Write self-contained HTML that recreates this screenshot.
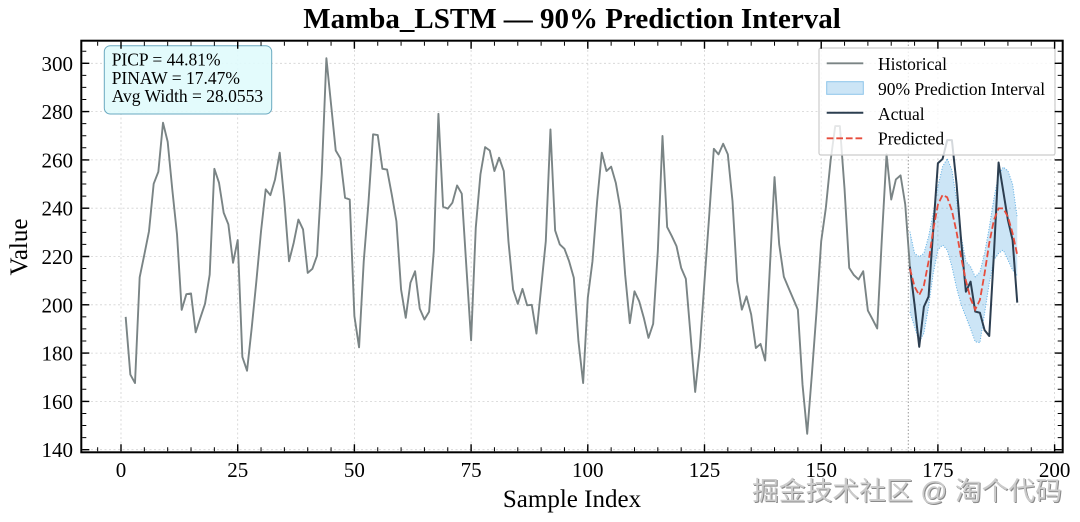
<!DOCTYPE html>
<html>
<head>
<meta charset="utf-8">
<style>
html,body{margin:0;padding:0;background:#ffffff;}
svg{display:block;}
text{font-family:"Liberation Serif",serif;}
</style>
</head>
<body>
<svg width="1080" height="522" viewBox="0 0 1080 522" xmlns="http://www.w3.org/2000/svg">
<rect x="0" y="0" width="1080" height="522" fill="#ffffff"/>

<!-- grid -->
<g stroke="#d2d2d2" stroke-width="0.8" stroke-dasharray="2 2.5" fill="none">
  <line x1="121" y1="41" x2="121" y2="452"/>
  <line x1="237.7" y1="41" x2="237.7" y2="452"/>
  <line x1="354.4" y1="41" x2="354.4" y2="452"/>
  <line x1="471.1" y1="41" x2="471.1" y2="452"/>
  <line x1="587.8" y1="41" x2="587.8" y2="452"/>
  <line x1="704.5" y1="41" x2="704.5" y2="452"/>
  <line x1="821.2" y1="41" x2="821.2" y2="452"/>
  <line x1="937.9" y1="41" x2="937.9" y2="452"/>
  <line x1="1054.6" y1="41" x2="1054.6" y2="452"/>
  <line x1="82" y1="449.7" x2="1062" y2="449.7"/>
  <line x1="82" y1="401.4" x2="1062" y2="401.4"/>
  <line x1="82" y1="353.1" x2="1062" y2="353.1"/>
  <line x1="82" y1="304.8" x2="1062" y2="304.8"/>
  <line x1="82" y1="256.5" x2="1062" y2="256.5"/>
  <line x1="82" y1="208.2" x2="1062" y2="208.2"/>
  <line x1="82" y1="159.9" x2="1062" y2="159.9"/>
  <line x1="82" y1="111.6" x2="1062" y2="111.6"/>
  <line x1="82" y1="63.3" x2="1062" y2="63.3"/>
</g>

<!-- forecast boundary -->
<line x1="908.3" y1="41" x2="908.3" y2="452" stroke="#9a9a9a" stroke-width="1" stroke-dasharray="1.5 2"/>

<!-- data in data coordinates -->
<g transform="matrix(4.668 0 0 -2.415 121 787.8)">
  <polygon fill="#3498db" fill-opacity="0.25" stroke="none"
    points="169,230.3 170,221.3 171,219.9 172,221.3 173,228.2 174,237.9 175,248.9 176,257.2 177,260.6 178,255.8 179,243.4 180,228.2 181,217.9 182,215.8 183,211.6 184,213.5 185,221.3 186,232 187,244 188,254 189,257 190,255.5 191,250 192,236 192,212 191,214.4 190,218.6 189,222.7 188,221.3 187,218.6 186,208.9 185,196.5 184,184.3 183,184.7 182,190 181,195 180,200 179,207 178,215.8 177,222.7 176,224.8 175,222.7 174,213 173,199.2 172,188.2 171,184.7 170,190.9 169,197"/>
  <polyline fill="none" stroke="#5dade2" stroke-width="1" stroke-dasharray="1 1.65" vector-effect="non-scaling-stroke"
    points="169,230.3 170,221.3 171,219.9 172,221.3 173,228.2 174,237.9 175,248.9 176,257.2 177,260.6 178,255.8 179,243.4 180,228.2 181,217.9 182,215.8 183,211.6 184,213.5 185,221.3 186,232 187,244 188,254 189,257 190,255.5 191,250 192,236"/>
  <polyline fill="none" stroke="#5dade2" stroke-width="1" stroke-dasharray="1 1.65" vector-effect="non-scaling-stroke"
    points="169,197 170,190.9 171,184.7 172,188.2 173,199.2 174,213 175,222.7 176,224.8 177,222.7 178,215.8 179,207 180,200 181,195 182,190 183,184.7 184,184.3 185,196.5 186,208.9 187,218.6 188,221.3 189,222.7 190,218.6 191,214.4 192,212"/>
  <polyline fill="none" stroke="#7a8485" stroke-width="1.9" stroke-linejoin="round" vector-effect="non-scaling-stroke"
    points="1,195 2,171.1 3,167.6 4,211.4 5,220.8 6,230.5 7,250.1 8,255.1 9,275.4 10,267.5 11,247.5 12,229.1 13,197.9 14,204.4 15,204.7 16,188.6 17,194.6 18,200.4 19,212.5 20,256.3 21,250.5 22,238.1 23,233.3 24,217.4 25,226.8 26,178.4 27,172.7 28,190.4 29,209.8 30,230.5 31,247.8 32,245.4 33,251.9 34,263 35,242.9 36,218 37,225.7 38,235.3 39,231.2 40,213.2 41,214.9 42,220.4 43,254 44,302.1 45,283 46,263.9 47,260.6 48,244.3 49,243.6 50,195.3 51,182.4 52,218 53,242 54,270.6 55,270.3 56,256.3 57,256 58,245.7 59,234.6 60,206.3 61,194.6 62,209.1 63,213.9 64,198.4 65,193.9 66,197.1 67,222.2 68,279.1 69,240.6 70,239.8 71,242.3 72,249.4 73,246 74,215.3 75,185.3 76,231.9 77,254 78,265.3 79,263.9 80,255.4 81,260.9 82,255.4 83,226.3 84,206.3 85,200.4 86,206.6 87,199.8 88,200 89,188.1 90,207 91,226.3 92,272.6 93,230.8 94,225 95,223.2 96,218 97,211.2 98,184.9 99,167.6 100,202.9 101,218 102,242.9 103,263 104,255.4 105,257.2 106,250.5 107,239.5 108,212.5 109,192.4 110,205.6 111,201.5 112,194.6 113,186.3 114,192.1 115,222.2 116,269.9 117,232.2 118,228.4 119,224.3 120,215.3 121,210.8 122,187.7 123,163.9 124,182.1 125,209.8 126,236.7 127,264.6 128,262.3 129,266.7 130,262.3 131,242.9 132,209.8 133,198 134,203.5 135,196 136,182.1 137,183.8 138,176.9 139,215.3 140,252.9 141,225 142,211.6 143,207 144,202.5 145,198 146,166.9 147,146.6 148,171.1 149,197.3 150,226.3 151,240.2 152,259.5 153,274 154,274 155,248 156,215.3 157,212.3 158,210.5 159,213.9 160,197.6 161,194 162,190.2 163,227.7 164,262.3 165,243.6 166,251.9 167,253.6 168,241.6 169,215.8"/>
  <polyline fill="none" stroke="#2c3e50" stroke-width="2" stroke-linejoin="round" vector-effect="non-scaling-stroke"
    points="169,215.8 170,200 171,182.6 172,199.2 173,203.4 174,231 175,258.6 176,260.4 177,268.2 178,268.2 179,250 180,226 181,205.4 182,209.6 183,197.2 184,196.7 185,189.5 186,187.1 187,221 188,258.9 189,247 190,235.1 191,226.8 192,200.9"/>
</g>

<!-- predicted (screen coords) -->
<polyline fill="none" stroke="#e74c3c" stroke-width="1.8" stroke-dasharray="6.7 2.9"
  points="909.9,268.6 914.6,286.7 919.2,295.1 923.9,285.5 928.6,261.3 933.2,229.9 937.9,204.6 942.6,194.9 947.2,197.3 951.9,210.6 956.6,232.3 961.2,257.7 965.9,280.6 970.6,298.8 975.2,309.6 979.9,300 984.6,273.4 989.2,243.5 993.9,220 998.6,208.4 1003.3,208.4 1007.9,216.7 1012.6,233.3 1017.3,255.1"/>

<!-- stats box -->
<rect x="104.3" y="45.7" width="167.4" height="68.3" rx="6" ry="6" fill="#e0fbfc" fill-opacity="0.9" stroke="#6aa9c0" stroke-width="1"/>
<g font-size="17.5" fill="#000">
  <text x="111.7" y="65.7">PICP = 44.81%</text>
  <text x="111.7" y="84">PINAW = 17.47%</text>
  <text x="111.7" y="102">Avg Width = 28.0553</text>
</g>

<!-- legend -->
<rect x="819" y="48" width="236" height="107" rx="2" ry="2" fill="#ffffff" fill-opacity="0.8" stroke="#cccccc" stroke-width="1.2"/>
<line x1="826.7" y1="63.3" x2="863.3" y2="63.3" stroke="#7a8485" stroke-width="1.9"/>
<rect x="826.7" y="81.7" width="36.6" height="12.6" fill="#3498db" fill-opacity="0.25" stroke="#8cc4ea" stroke-width="1"/>
<line x1="826.7" y1="112.7" x2="863.3" y2="112.7" stroke="#2c3e50" stroke-width="2"/>
<line x1="826.7" y1="138.3" x2="863.3" y2="138.3" stroke="#e74c3c" stroke-width="1.8" stroke-dasharray="6.7 2.9"/>
<g font-size="17.5" fill="#000">
  <text x="878" y="70">Historical</text>
  <text x="878" y="95">90% Prediction Interval</text>
  <text x="878" y="120">Actual</text>
  <text x="878" y="144.5">Predicted</text>
</g>

<!-- spines -->
<rect x="81.3" y="40.7" width="981.4" height="411.6" fill="none" stroke="#000" stroke-width="2"/>

<!-- ticks -->
<g stroke="#000" fill="none">
  <line x1="97.16" y1="449.3" x2="1062" y2="449.3" stroke-width="4" stroke-dasharray="1 22.34"/>
  <line x1="120.3" y1="447.8" x2="1062" y2="447.8" stroke-width="7" stroke-dasharray="1.4 115.3"/>
  <line x1="97.16" y1="43.7" x2="1062" y2="43.7" stroke-width="4" stroke-dasharray="1 22.34"/>
  <line x1="120.3" y1="45.2" x2="1062" y2="45.2" stroke-width="7" stroke-dasharray="1.4 115.3"/>
  <line x1="84.3" y1="50.7" x2="84.3" y2="452" stroke-width="4" stroke-dasharray="1 11.075"/>
  <line x1="85.8" y1="62.6" x2="85.8" y2="452" stroke-width="7" stroke-dasharray="1.4 46.9"/>
  <line x1="1059.7" y1="50.7" x2="1059.7" y2="452" stroke-width="4" stroke-dasharray="1 11.075"/>
  <line x1="1058.2" y1="62.6" x2="1058.2" y2="452" stroke-width="7" stroke-dasharray="1.4 46.9"/>
</g>

<!-- tick labels -->
<g font-size="21" fill="#000" text-anchor="end">
  <text x="73" y="70.8">300</text>
  <text x="73" y="119.1">280</text>
  <text x="73" y="167.4">260</text>
  <text x="73" y="215.7">240</text>
  <text x="73" y="264">220</text>
  <text x="73" y="312.3">200</text>
  <text x="73" y="360.6">180</text>
  <text x="73" y="408.9">160</text>
  <text x="73" y="457.2">140</text>
</g>
<g font-size="21" fill="#000" text-anchor="middle">
  <text x="121" y="477">0</text>
  <text x="237.7" y="477">25</text>
  <text x="354.4" y="477">50</text>
  <text x="471.1" y="477">75</text>
  <text x="587.8" y="477">100</text>
  <text x="704.5" y="477">125</text>
  <text x="821.2" y="477">150</text>
  <text x="937.9" y="477">175</text>
  <text x="1054.6" y="477">200</text>
</g>

<!-- axis labels & title -->
<text x="572" y="507" font-size="25" text-anchor="middle" fill="#000">Sample Index</text>
<text transform="translate(27,247) rotate(-90)" font-size="25" text-anchor="middle" fill="#000">Value</text>
<text x="572" y="28" font-size="29" font-weight="bold" text-anchor="middle" fill="#000">Mamba_LSTM — 90% Prediction Interval</text>

<!-- watermark -->
<text x="753" y="501" font-size="26" textLength="310" lengthAdjust="spacingAndGlyphs" fill="#8a8a8a" style="font-family:'Liberation Sans','Noto Sans CJK SC',sans-serif;">掘金技术社区 @ 淘个代码</text>
<text x="752" y="500" font-size="26" textLength="310" lengthAdjust="spacingAndGlyphs" fill="#cbcbcb" style="font-family:'Liberation Sans','Noto Sans CJK SC',sans-serif;">掘金技术社区 @ 淘个代码</text>
</svg>
</body>
</html>
